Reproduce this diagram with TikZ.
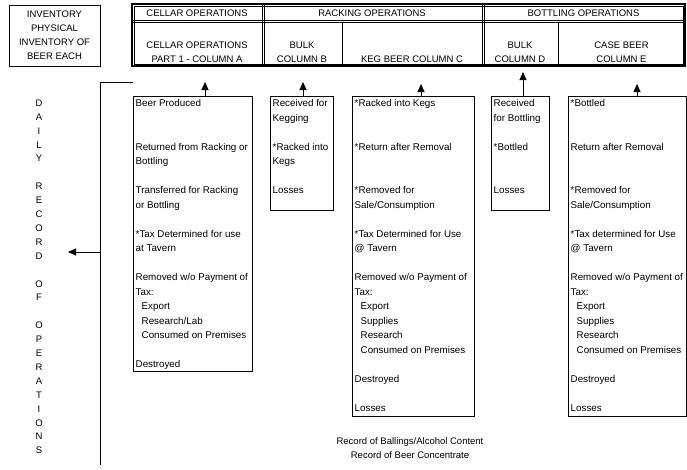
\documentclass[tikz,border=0pt]{standalone}
\usepackage{amsmath}
\usepackage{fontspec}
\setmainfont{Liberation Sans}
\usepackage{tikz}
\usetikzlibrary{arrows.meta}

\tikzset{
	cell/.style={rectangle, draw=black, line width=0.6pt},
	opbox/.style={rectangle, draw=black, line width=0.9pt, anchor=north west},
	optext/.style={anchor=north west, align=left, font=\fontsize{9.8}{14.5}\selectfont},
	hdrtext/.style={anchor=south, align=center},
	arr/.style={draw=black, line width=0.9pt, -{Triangle[width=7pt,length=8pt]}}
}

\begin{document}
\begin{tikzpicture}[x=1pt, y=-1pt, every node/.style={inner sep=0pt, font=\fontsize{9.5}{14}\selectfont}]
			\useasboundingbox (0,0) rectangle (687,469);
			
			\node[cell, minimum width=91, minimum height=61, align=center] (inv) at (54.5,35.5){INVENTORY\\PHYSICAL\\INVENTORY OF\\BEER EACH};
			
			\node[cell, minimum width=130, minimum height=18] (cellarOps) at (197,13){CELLAR OPERATIONS};
			\node[cell, minimum width=220, minimum height=18] (rackingOps) at (372,13){RACKING OPERATIONS};
			\node[cell, minimum width=203, minimum height=18] (bottlingOps) at (583.5,13){BOTTLING OPERATIONS};
			\node[cell, minimum width=130, minimum height=44] (colA) at (197,44){};
			\node[cell, minimum width=80, minimum height=44] (colB) at (302,44){};
			\node[cell, minimum width=140, minimum height=44] (colC) at (412,44){};
			\node[cell, minimum width=76, minimum height=44] (colD) at (520,44){};
			\node[cell, minimum width=127, minimum height=44] (colE) at (621.5,44){};
			
			\node[hdrtext] (colAtext) at ([yshift=3.6pt]colA.south){CELLAR OPERATIONS\\PART 1 - COLUMN A};
			\node[hdrtext] (colBtext) at ([yshift=3.6pt]colB.south){BULK\\COLUMN B};
			\node[hdrtext] (colCtext) at ([yshift=3.6pt]colC.south){KEG BEER COLUMN C};
			\node[hdrtext] (colDtext) at ([yshift=3.6pt]colD.south){BULK\\COLUMN D};
			\node[hdrtext] (colEtext) at ([yshift=3.6pt]colE.south){CASE BEER\\COLUMN E};
			
			\draw[line width=1.8pt] (cellarOps.north west) rectangle (colE.south east);
			\draw[line width=0.5pt] ([xshift=2.5pt,yshift=-2.5pt]cellarOps.north west) rectangle ([xshift=-2.5pt,yshift=2.5pt]colE.south east);
			\draw[line width=0.5pt] ([yshift=2pt]cellarOps.south west) -- ([yshift=2pt]bottlingOps.south east);
			\draw[line width=0.5pt] ([xshift=2pt]cellarOps.north east) -- ([xshift=2pt]colA.south east);
			\draw[line width=0.5pt] ([xshift=2pt]rackingOps.north east) -- ([xshift=2pt]colC.south east);
			
			\node[anchor=north, align=center, font=\fontsize{9.5}{13.9}\selectfont] (daily) at (39,99.6){D\\A\\I\\L\\Y\\[13.9pt]R\\E\\C\\O\\R\\D\\[13.9pt]O\\F\\[13.9pt]O\\P\\E\\R\\A\\T\\I\\O\\N\\S};
			
			\node[opbox, minimum width=119, minimum height=275] (boxA) at (133,96){};
			\node[opbox, minimum width=63, minimum height=114] (boxB) at (270,96){};
			\node[opbox, minimum width=122, minimum height=320] (boxC) at (352,96){};
			\node[opbox, minimum width=58, minimum height=114] (boxD) at (491,96){};
			\node[opbox, minimum width=118, minimum height=320] (boxE) at (568,96){};
			
			\node[optext] (listA) at ([xshift=2.5pt,yshift=-3.2pt]boxA.north west){Beer Produced\\[29pt]Returned from Racking or\\Bottling\\[14.5pt]Transferred for Racking\\or Bottling\\[14.5pt]*Tax Determined for use\\at Tavern\\[14.5pt]Removed w/o Payment of\\Tax:\\\hspace*{6pt}Export\\\hspace*{6pt}Research/Lab\\\hspace*{6pt}Consumed on Premises\\[14.5pt]Destroyed};
			\node[optext] (listB) at ([xshift=2.5pt,yshift=-3.2pt]boxB.north west){Received for\\Kegging\\[14.5pt]*Racked into\\Kegs\\[14.5pt]Losses};
			\node[optext] (listC) at ([xshift=2.5pt,yshift=-3.2pt]boxC.north west){*Racked into Kegs\\[29pt]*Return after Removal\\[29pt]*Removed for\\Sale/Consumption\\[14.5pt]*Tax Determined for Use\\@ Tavern\\[14.5pt]Removed w/o Payment of\\Tax:\\\hspace*{6pt}Export\\\hspace*{6pt}Supplies\\\hspace*{6pt}Research\\\hspace*{6pt}Consumed on Premises\\[14.5pt]Destroyed\\[14.5pt]Losses};
			\node[optext] (listD) at ([xshift=2.5pt,yshift=-3.2pt]boxD.north west){Received\\for Bottling\\[14.5pt]*Bottled\\[29pt]Losses};
			\node[optext] (listE) at ([xshift=2.5pt,yshift=-3.2pt]boxE.north west){*Bottled\\[29pt]Return after Removal\\[29pt]*Removed for\\Sale/Consumption\\[14.5pt]*Tax determined for Use\\@ Tavern\\[14.5pt]Removed w/o Payment of\\Tax:\\\hspace*{6pt}Export\\\hspace*{6pt}Supplies\\\hspace*{6pt}Research\\\hspace*{6pt}Consumed on Premises\\[14.5pt]Destroyed\\[14.5pt]Losses};
			
			\node[align=center] (records) at (410,448){Record of Ballings/Alcohol Content\\Record of Beer Concentrate};
			
			\coordinate (tipA) at (205,82);
			\coordinate (tipB) at (303,82);
			\coordinate (tipC) at (421,84);
			\coordinate (tipD) at (523,72);
			\coordinate (tipE) at (637,84);
			\coordinate (brTop) at (100,82);
			\coordinate (brEnd) at (100,465);
			\coordinate (dailyTip) at (68,252);
			
			\draw[arr] (tipA |- boxA.north) -- (tipA);
			\draw[arr] (tipB |- boxB.north) -- (tipB);
			\draw[arr] (tipC |- boxC.north) -- (tipC);
			\draw[arr] (tipD |- boxD.north) -- (tipD);
			\draw[arr] (tipE |- boxE.north) -- (tipE);
			\draw[line width=0.9pt] (boxA.west |- brTop) -- (brTop) -- (brEnd);
			\draw[arr] (brTop |- dailyTip) -- (dailyTip);
\end{tikzpicture}
\end{document}
